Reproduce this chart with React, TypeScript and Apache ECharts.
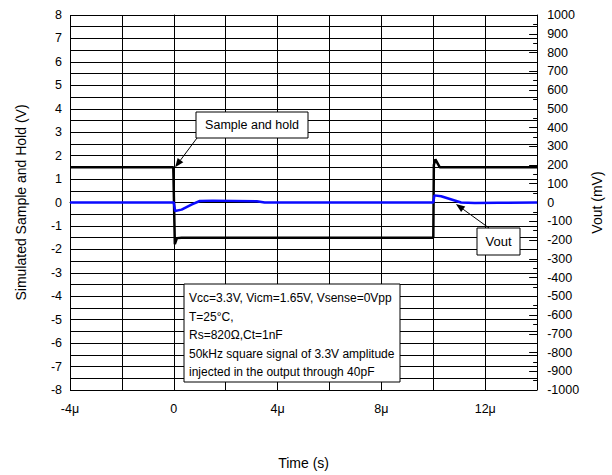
import React, { useEffect, useRef } from "react";
import * as echarts from "echarts";

// Sample-and-hold signal (left axis, V), time in µs
const timeSH = [-4, -0.02, 0, 0.04, 0.12, 0.3, 10, 10.02, 10.08, 10.25, 14];
const valueSH = [1.5, 1.5, 1.5, -1.78, -1.52, -1.5, -1.5, 1.6, 1.84, 1.5, 1.5];

// Vout (right axis, mV), time in µs
const timeVout = [-4, 0, 0.05, 0.3, 0.7, 1.0, 1.5, 3.2, 3.5, 10, 10.04, 10.3, 11.07, 11.6, 12.5, 14];
const valueVout = [0, 0, -45, -38, -10, 8, 10, 7, 0, 0, 38, 33, 0, -3, -1, 0];

const leftTicks = { min: -8, max: 8, interval: 1 };
const rightTicks = { min: -1000, max: 1000, interval: 100 };
const timeTicks = { min: -4, max: 14, interval: 2 };

const noteLines = [
  "Vcc=3.3V, Vicm=1.65V, Vsense=0Vpp",
  "T=25°C,",
  "Rs=820Ω,Ct=1nF",
  "50kHz square signal of 3.3V amplitude",
  "injected in the output through 40pF",
];

const FONT = "Liberation Sans, Arial, sans-serif";

function arrow(from: number[], to: number[]) {
  const dx = to[0] - from[0];
  const dy = to[1] - from[1];
  const len = Math.sqrt(dx * dx + dy * dy);
  const ux = dx / len;
  const uy = dy / len;
  const hl = 9;
  const hw = 3.5;
  const bx = to[0] - ux * hl;
  const by = to[1] - uy * hl;
  return [
    {
      type: "line",
      shape: { x1: from[0], y1: from[1], x2: bx, y2: by },
      style: { stroke: "#000", lineWidth: 1 },
      z: 100,
    },
    {
      type: "polygon",
      shape: {
        points: [
          [to[0], to[1]],
          [bx - uy * hw, by + ux * hw],
          [bx + uy * hw, by - ux * hw],
        ],
      },
      style: { fill: "#000" },
      z: 100,
    },
  ];
}

export default function App() {
  const ref = useRef<HTMLDivElement>(null);
  useEffect(() => {
    if (!ref.current) return;
    const chart = echarts.init(ref.current, undefined, { renderer: "svg" });
    const shData = timeSH.map((t, i) => [t, valueSH[i]]);
    const voutData = timeVout.map((t, i) => [t, valueVout[i]]);
    chart.setOption({
      animation: false,
      backgroundColor: "#fff",
      textStyle: { fontFamily: FONT },
      grid: { left: 70, right: 74, top: 15, bottom: 84 },
      xAxis: {
        type: "value",
        ...timeTicks,
        name: "Time (s)",
        nameLocation: "middle",
        nameGap: 66,
        nameTextStyle: { fontSize: 14, color: "#000", fontFamily: FONT },
        axisLine: { lineStyle: { color: "#000", width: 1 } },
        axisTick: { inside: true, length: 5, lineStyle: { color: "#000" } },
        axisLabel: {
          margin: 12,
          fontSize: 12.5,
          color: "#000",
          fontFamily: FONT,
          formatter: (v: number) => (v % 4 === 0 ? (v === 0 ? "0" : v + "μ") : ""),
        },
        splitLine: { show: true, lineStyle: { color: "#000", width: 1 } },
      },
      yAxis: [
        {
          type: "value",
          ...leftTicks,
          name: "Simulated Sample and Hold (V)",
          nameLocation: "middle",
          nameGap: 42,
          nameTextStyle: { fontSize: 14, color: "#000", fontFamily: FONT },
          axisLine: { show: true, lineStyle: { color: "#000", width: 1 } },
          axisTick: { show: true, length: 7, lineStyle: { color: "#000" } },
          minorTick: { show: true, splitNumber: 2, length: 4, lineStyle: { color: "#000" } },
          axisLabel: { margin: 8, fontSize: 12.5, color: "#000", fontFamily: FONT },
          splitLine: { show: true, lineStyle: { color: "#000", width: 1 } },
          minorSplitLine: { show: true, lineStyle: { color: "#000", width: 1 } },
        },
        {
          type: "value",
          ...rightTicks,
          position: "right",
          name: "Vout (mV)",
          nameLocation: "middle",
          nameGap: 44,
          nameTextStyle: { fontSize: 14, color: "#000", fontFamily: FONT },
          axisLine: { show: true, lineStyle: { color: "#000", width: 1 } },
          axisTick: { show: true, inside: true, length: 8, lineStyle: { color: "#000" } },
          minorTick: { show: true, splitNumber: 2, length: 4, lineStyle: { color: "#000" } },
          axisLabel: {
            margin: 10,
            fontSize: 12.5,
            color: "#000",
            fontFamily: FONT,
            formatter: (v: number) => String(v),
          },
          splitLine: { show: false },
        },
      ],
      series: [
        {
          type: "line",
          name: "Sample and hold",
          yAxisIndex: 0,
          data: shData,
          symbol: "none",
          lineStyle: { color: "#000", width: 2.5 },
          z: 3,
        },
        {
          type: "line",
          name: "Vout",
          yAxisIndex: 1,
          data: voutData,
          symbol: "none",
          lineStyle: { color: "#0a0aff", width: 2.5 },
          z: 4,
        },
      ],
    });

    const tip1 = chart.convertToPixel({ xAxisIndex: 0, yAxisIndex: 0 }, [0.05, 1.5]) as number[];
    const tip2 = chart.convertToPixel({ xAxisIndex: 0, yAxisIndex: 1 }, [10.87, -8]) as number[];

    chart.setOption({
      graphic: [
        {
          type: "rect",
          shape: { x: 196, y: 112, width: 112, height: 26 },
          style: { fill: "#fff", stroke: "#000", lineWidth: 1 },
          z: 100,
        },
        {
          type: "text",
          x: 252,
          y: 125,
          style: {
            text: "Sample and hold",
            fontSize: 12.5,
            fontFamily: FONT,
            fill: "#000",
            align: "center",
            verticalAlign: "middle",
          },
          z: 101,
        },
        ...arrow([197, 138], tip1),
        {
          type: "rect",
          shape: { x: 477, y: 228, width: 43, height: 27 },
          style: { fill: "#fff", stroke: "#000", lineWidth: 1 },
          z: 100,
        },
        {
          type: "text",
          x: 498.5,
          y: 241.5,
          style: {
            text: "Vout",
            fontSize: 13,
            fontFamily: FONT,
            fill: "#000",
            align: "center",
            verticalAlign: "middle",
          },
          z: 101,
        },
        ...arrow([489, 228], tip2),
        {
          type: "rect",
          shape: { x: 184, y: 284, width: 216, height: 98 },
          style: { fill: "#fff", stroke: "#000", lineWidth: 1 },
          z: 100,
        },
        {
          type: "text",
          x: 189,
          y: 289,
          style: {
            text: noteLines.join("\n"),
            fontSize: 12,
            lineHeight: 18.5,
            fontFamily: FONT,
            fill: "#000",
            align: "left",
            verticalAlign: "top",
          },
          z: 101,
        },
      ],
    });

    return () => chart.dispose();
  }, []);
  return (
    <div
      ref={ref}
      style={{ position: "absolute", left: 0, top: 0, width: 612, height: 475 }}
    />
  );
}
